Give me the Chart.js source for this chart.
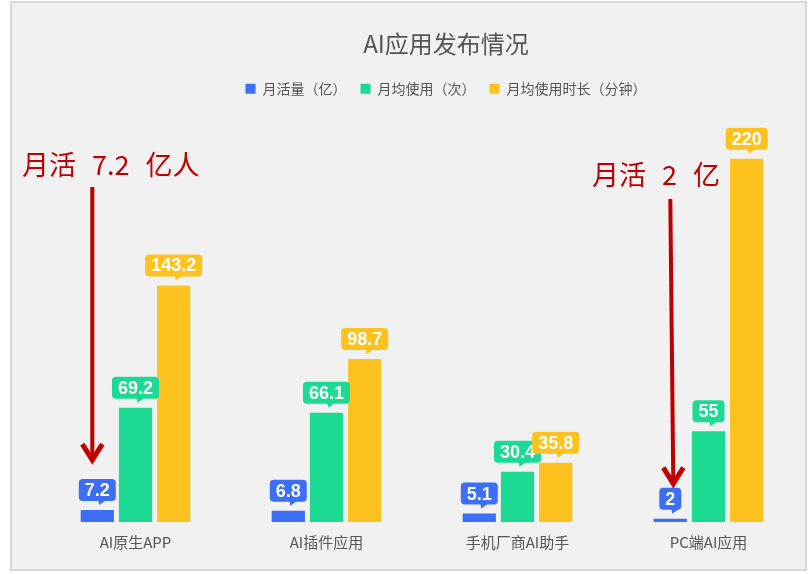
<!DOCTYPE html>
<html><head><meta charset="utf-8">
<script src="https://cdn.jsdelivr.net/npm/chart.js@4"></script>
<style>html,body{margin:0;padding:0;background:#fff;}#wrap{width:808px;height:574px;}</style>
</head><body><div id="wrap"><canvas id="c" width="808" height="574"></canvas></div>
<script>
// ---- data ----
const categories = ['AI原生APP', 'AI插件应用', '手机厂商AI助手', 'PC端AI应用'];
const seriesNames = ['月活量（亿）', '月均使用（次）', '月均使用时长（分钟）'];
const monthlyActive = [7.2, 6.8, 5.1, 2];
const monthlyUses = [69.2, 66.1, 30.4, 55];
const monthlyMinutes = [143.2, 98.7, 35.8, 220];
const titleText = 'AI应用发布情况';
const noteTexts = ['月活 7.2 亿人', '月活 2 亿'];
const noteCategories = [0, 3];

const colors = ['#3d6ef6', '#1cd993', '#fec21f'];
const CJK = '"Noto Sans CJK SC", "Liberation Sans", sans-serif';
const NUM = '"Liberation Sans", Arial, sans-serif';

// annotation layout (decoration only)
const noteStyle = [
  { textX: 22, textY: 165, dx: -5, startY: 187, tipAbove: 47, tipDx: 0 },
  { textX: 592, textY: 175, dx: 0, startY: 199, tipAbove: 32, tipDx: 3 }
];

const panelPlugin = {
  id: 'panel',
  beforeDraw(chart) {
    const ctx = chart.ctx;
    ctx.save();
    ctx.fillStyle = '#ffffff';
    ctx.fillRect(0, 0, chart.width, chart.height);
    ctx.fillStyle = '#f1f1f1';
    ctx.fillRect(11, 2, 795, 568);
    ctx.strokeStyle = '#d8d8d8';
    ctx.lineWidth = 2;
    ctx.strokeRect(11, 2, 795, 568);
    ctx.restore();
  }
};

const shiftPlugin = {
  id: 'shiftHeader',
  afterLayout(chart) {
    const d = 24;
    if (chart.titleBlock) { chart.titleBlock.left += d; chart.titleBlock.right += d; }
    if (chart.legend) { chart.legend.left += d; chart.legend.right += d; }
  }
};

function roundRect(ctx, x, y, w, h, r) {
  ctx.beginPath();
  ctx.moveTo(x + r, y);
  ctx.lineTo(x + w - r, y);
  ctx.quadraticCurveTo(x + w, y, x + w, y + r);
  ctx.lineTo(x + w, y + h - r);
  ctx.quadraticCurveTo(x + w, y + h, x + w - r, y + h);
  ctx.lineTo(x + r, y + h);
  ctx.quadraticCurveTo(x, y + h, x, y + h - r);
  ctx.lineTo(x, y + r);
  ctx.quadraticCurveTo(x, y, x + r, y);
  ctx.closePath();
}

const badgePlugin = {
  id: 'badges',
  afterDatasetsDraw(chart) {
    const ctx = chart.ctx;
    ctx.save();
    ctx.font = 'bold 18px ' + NUM;
    ctx.textAlign = 'center';
    ctx.textBaseline = 'middle';
    chart.data.datasets.forEach((ds, di) => {
      const meta = chart.getDatasetMeta(di);
      meta.data.forEach((bar, i) => {
        const txt = String(ds.data[i]);
        const tw = ctx.measureText(txt).width;
        const w = tw + 12, h = 22;
        const bottom = bar.y - 9;
        const x = bar.x - w / 2, y = bottom - h;
        ctx.fillStyle = ds.backgroundColor;
        roundRect(ctx, x, y, w, h, 4);
        ctx.fill();
        ctx.beginPath();
        ctx.moveTo(bar.x + 1, bottom - 1);
        ctx.lineTo(bar.x + 9, bottom - 1);
        ctx.lineTo(bar.x + 2, bottom + 4);
        ctx.closePath();
        ctx.fill();
        ctx.fillStyle = '#ffffff';
        ctx.fillText(txt, bar.x, y + h / 2 + 1);
      });
    });
    ctx.restore();
  }
};

const notePlugin = {
  id: 'notes',
  afterDraw(chart) {
    const ctx = chart.ctx;
    const meta = chart.getDatasetMeta(0);
    ctx.save();
    ctx.fillStyle = '#c00000';
    ctx.strokeStyle = '#c00000';
    noteTexts.forEach((t, k) => {
      const st = noteStyle[k];
      const bar = meta.data[noteCategories[k]];
      ctx.font = '27px ' + CJK;
      ctx.textAlign = 'left';
      ctx.textBaseline = 'middle';
      let cx = st.textX;
      t.split(' ').forEach(tok => {
        ctx.fillText(tok, cx, st.textY);
        cx += ctx.measureText(tok).width + 16;
      });
      const x0 = bar.x + st.dx;
      const x1 = x0 + st.tipDx;
      const tipY = bar.y - st.tipAbove;
      ctx.lineWidth = 4;
      ctx.lineCap = 'butt';
      ctx.beginPath();
      ctx.moveTo(x0, st.startY);
      ctx.lineTo(x1, tipY - 3);
      ctx.stroke();
      ctx.lineWidth = 5;
      ctx.lineJoin = 'miter';
      ctx.beginPath();
      ctx.moveTo(x1 - 10, tipY - 19);
      ctx.lineTo(x1, tipY - 3);
      ctx.lineTo(x1 + 10, tipY - 19);
      ctx.stroke();
    });
    ctx.restore();
  }
};

new Chart(document.getElementById('c'), {
  type: 'bar',
  data: {
    labels: categories,
    datasets: [
      { label: seriesNames[0], data: monthlyActive, backgroundColor: colors[0] },
      { label: seriesNames[1], data: monthlyUses, backgroundColor: colors[1] },
      { label: seriesNames[2], data: monthlyMinutes, backgroundColor: colors[2] }
    ]
  },
  options: {
    responsive: false,
    devicePixelRatio: 1,
    animation: false,
    datasets: { bar: { categoryPercentage: 0.6, barPercentage: 0.87, borderWidth: 0 } },
    layout: { padding: { left: 40, right: 4, top: 6, bottom: 12 } },
    plugins: {
      title: {
        display: true, text: titleText, color: '#555555',
        font: { family: CJK, size: 24, weight: 'normal' },
        padding: { top: 23, bottom: 10 }
      },
      legend: {
        display: true,
        labels: {
          boxWidth: 10, boxHeight: 10, padding: 14, color: '#555555',
          font: { family: CJK, size: 14 }
        }
      },
      tooltip: { enabled: false }
    },
    scales: {
      x: {
        grid: { display: false, drawTicks: false },
        border: { display: false },
        ticks: { color: '#555555', padding: 11, font: { family: CJK, size: 15 } }
      },
      y: { display: false, min: 0, max: 252 }
    }
  },
  plugins: [panelPlugin, shiftPlugin, badgePlugin, notePlugin]
});
</script>
</body></html>
